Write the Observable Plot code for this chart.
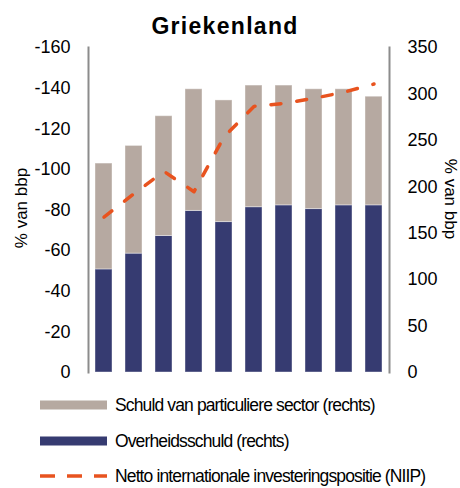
<!DOCTYPE html>
<html><head><meta charset="utf-8">
<script src="https://cdn.jsdelivr.net/npm/d3@7"></script>
<script src="https://cdn.jsdelivr.net/npm/@observablehq/plot@0.6"></script>
<style>
body{margin:0;background:#fff;font-family:"Liberation Sans",Arial,sans-serif;}
#chart{width:460px;height:488px;position:relative;overflow:hidden;}
#legend{position:absolute;left:0;top:388px;}
</style></head><body><div id="chart"></div>
<script>
// Data
const perioden = ["1","2","3","4","5","6","7","8","9","10"];
const overheidsschuld = [111, 128, 147, 174, 162, 178, 180, 176, 180, 180];
const particulier = [114, 116, 129, 131, 131, 131, 129, 129, 125, 117];
const niip = [-76.5, -88, -99, -89, -116, -131, -132.5, -135, -138, -142];
const reeksen = ["Overheidsschuld (rechts)", "Schuld van particuliere sector (rechts)"];
const lijnNaam = "Netto internationale investeringspositie (NIIP)";
const kleuren = ["#363b71", "#b6a9a1"];
const lijnKleur = "#e8531f";
const titel = "Griekenland";
const asLabel = "% van bbp";
const linksTicks = [0, -20, -40, -60, -80, -100, -120, -140, -160];
const rechtsTicks = [0, 50, 100, 150, 200, 250, 300, 350];
const linksMax = 160, rechtsMax = 350;

const tabel = [];
[overheidsschuld, particulier].forEach((arr, s) => arr.forEach((v, i) => tabel.push({periode: perioden[i], reeks: reeksen[s], waarde: v})));
const niipTabel = niip.map((v, i) => ({periode: perioden[i], waarde: v}));
const toRechts = v => -v * rechtsMax / linksMax;

const plot = Plot.plot({
  width: 460, height: 388,
  marginLeft: 88, marginRight: 71, marginTop: 47, marginBottom: 16,
  style: {fontFamily: "Liberation Sans, Arial, sans-serif", fontSize: "18px", color: "#000", background: "#fff", overflow: "visible"},
  x: {type: "band", domain: perioden, paddingInner: 0.433, paddingOuter: 0.233, axis: null},
  y: {domain: [0, rechtsMax], axis: null},
  color: {domain: reeksen, range: kleuren},
  marks: [
    Plot.barY(tabel, {x: "periode", y: "waarde", fill: "reeks", stroke: "#fff", strokeOpacity: 0.4, strokeWidth: 1}),
    Plot.line(niipTabel, {x: "periode", y: d => toRechts(d.waarde), stroke: lijnKleur, strokeWidth: 3.5, strokeDasharray: "10,16", strokeLinecap: "round"}),
    Plot.frame({anchor: "left", stroke: "#8c8c8c", strokeWidth: 2}),
    Plot.frame({anchor: "right", stroke: "#8c8c8c", strokeWidth: 2}),
    Plot.axisY(linksTicks.map(toRechts), {anchor: "left", tickSize: 0, tickPadding: 18, label: null, tickFormat: d => String(-Math.round(d * linksMax / rechtsMax)), fontSize: 18}),
    Plot.axisY(rechtsTicks, {anchor: "right", tickSize: 0, tickPadding: 18, label: null, fontSize: 18}),
    Plot.text([asLabel], {frameAnchor: "left", dx: -67, dy: -2, rotate: -90, textAnchor: "middle", fontSize: 17}),
    Plot.text([asLabel], {frameAnchor: "right", dx: 61, dy: -11, rotate: 90, textAnchor: "middle", fontSize: 17}),
    Plot.text([titel], {frameAnchor: "top", dy: -21, dx: -14, fontSize: 23, fontWeight: "bold", lineAnchor: "middle"})
  ]
});
document.getElementById("chart").appendChild(plot);
d3.select(plot).selectAll("text").filter(function(){return this.textContent === titel;}).attr("letter-spacing", "1.3px");

// legend
const leg = d3.select("#chart").append("svg").attr("id", "legend").attr("width", 460).attr("height", 100)
  .style("font-family", "Liberation Sans, Arial, sans-serif");
const items = [
  {naam: reeksen[1], type: "rect", kleur: kleuren[1], y: 17},
  {naam: reeksen[0], type: "rect", kleur: kleuren[0], y: 53},
  {naam: lijnNaam, type: "line", kleur: lijnKleur, y: 88}
];
items.forEach(it => {
  if (it.type === "rect") leg.append("rect").attr("x", 40).attr("y", it.y - 4.5).attr("width", 67).attr("height", 9).attr("fill", it.kleur);
  else leg.append("line").attr("x1", 40).attr("x2", 107).attr("y1", it.y).attr("y2", it.y).attr("stroke", it.kleur).attr("stroke-width", 3.5).attr("stroke-dasharray", "15,12");
  leg.append("text").attr("x", 115).attr("y", it.y + 6).attr("font-size", 17.5).attr("letter-spacing", "-0.87px").attr("fill", "#000").text(it.naam);
});
</script></body></html>
